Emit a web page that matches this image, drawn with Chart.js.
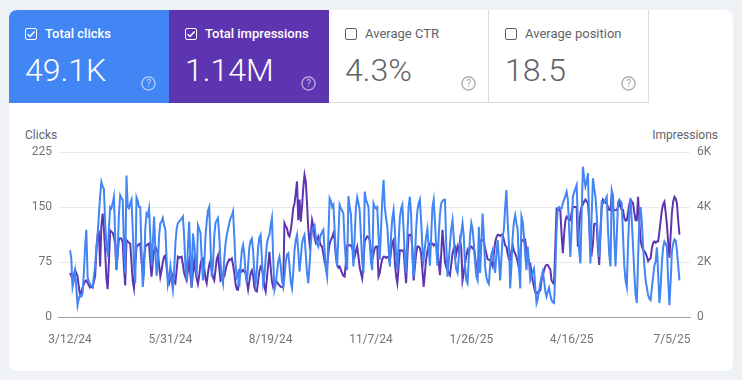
<!DOCTYPE html>
<html>
<head>
<meta charset="utf-8">
<script src="https://cdn.jsdelivr.net/npm/chart.js@4.4.1/dist/chart.umd.min.js"></script>
<style>
  body { margin: 0; background: #eef1f6; font-family: Roboto, "Noto Sans", sans-serif; }
  .panel { position: absolute; left: 9px; top: 10px; width: 724px; height: 361px; background: #fff; border-radius: 8px; overflow: hidden; }
  .card { position: absolute; top: 0; width: 160px; height: 93px; box-sizing: border-box; }
  .card.clicks { left: 0; background: #4285f4; color: #fff; }
  .card.impr { left: 160px; background: #5e35b1; color: #fff; }
  .card.ctr { left: 320px; color: #5f6368; border-right: 1px solid #dadce0; border-bottom: 1px solid #dadce0; }
  .card.pos { left: 480px; width: 160px; color: #5f6368; border-right: 1px solid #dadce0; border-bottom: 1px solid #dadce0; }
  .box { position: absolute; left: 16px; top: 18px; width: 12px; height: 12px; box-sizing: border-box; border: 1.5px solid #5f6368; border-radius: 2px; }
  .clicks .box, .impr .box { border-color: #fff; }
  .box svg { position: absolute; left: -1px; top: -1px; }
  .title { position: absolute; left: 36px; top: 17px; font-size: 13px; line-height: 1; white-space: nowrap; }
  .clicks .title, .impr .title { font-weight: 500; }
  .value { position: absolute; left: 16px; top: 44px; font-size: 32px; line-height: 1; white-space: nowrap; font-weight: 300; }
  .help { position: absolute; left: 132px; top: 66px; }
  .axis-title { position: absolute; top: 128px; font-size: 12px; line-height: 14px; color: #5f6368; }
  canvas { position: absolute; left: 0; top: 110px; }
</style>
</head>
<body>
<div class="panel">
  <div class="card clicks">
    <div class="box"><svg width="12" height="12" viewBox="0 0 12 12"><path d="M2.6 6.2 L5 8.5 L9.6 3.6" fill="none" stroke="#fff" stroke-width="1.5"/></svg></div>
    <div class="title">Total clicks</div>
    <div class="value">49.1K</div>
    <svg class="help" width="15" height="15" viewBox="0 0 15 15"><circle cx="7.5" cy="7.5" r="6.6" fill="none" stroke="rgba(255,255,255,0.65)" stroke-width="1.2"/><text x="7.5" y="11" text-anchor="middle" font-size="10" font-family="Roboto" fill="rgba(255,255,255,0.65)">?</text></svg>
  </div>
  <div class="card impr">
    <div class="box"><svg width="12" height="12" viewBox="0 0 12 12"><path d="M2.6 6.2 L5 8.5 L9.6 3.6" fill="none" stroke="#fff" stroke-width="1.5"/></svg></div>
    <div class="title">Total impressions</div>
    <div class="value">1.14M</div>
    <svg class="help" width="15" height="15" viewBox="0 0 15 15"><circle cx="7.5" cy="7.5" r="6.6" fill="none" stroke="rgba(255,255,255,0.65)" stroke-width="1.2"/><text x="7.5" y="11" text-anchor="middle" font-size="10" font-family="Roboto" fill="rgba(255,255,255,0.65)">?</text></svg>
  </div>
  <div class="card ctr">
    <div class="box"></div>
    <div class="title">Average CTR</div>
    <div class="value">4.3%</div>
    <svg class="help" width="15" height="15" viewBox="0 0 15 15"><circle cx="7.5" cy="7.5" r="6.6" fill="none" stroke="#9aa0a6" stroke-width="1.2"/><text x="7.5" y="11" text-anchor="middle" font-size="10" font-family="Roboto" fill="#9aa0a6">?</text></svg>
  </div>
  <div class="card pos">
    <div class="box"></div>
    <div class="title">Average position</div>
    <div class="value">18.5</div>
    <svg class="help" width="15" height="15" viewBox="0 0 15 15"><circle cx="7.5" cy="7.5" r="6.6" fill="none" stroke="#9aa0a6" stroke-width="1.2"/><text x="7.5" y="11" text-anchor="middle" font-size="10" font-family="Roboto" fill="#9aa0a6">?</text></svg>
  </div>
</div>
<div class="axis-title" style="left:25px">Clicks</div>
<div class="axis-title" style="right:24px">Impressions</div>
<canvas id="perfChart" width="742" height="250"></canvas>

<script>
// Daily values, 3/12/24 onwards (one entry per day)
const clicks = [
  91, 80, 41, 50, 62, 40, 16, 25, 30, 28,
  32, 60, 95, 119, 55, 48, 45, 42, 41, 55,
  69, 95, 112, 140, 165, 184, 178, 175, 130, 95,
  87, 120, 150, 148, 155, 164, 110, 64, 90, 140,
  166, 162, 160, 95, 60, 193, 150, 148, 155, 160,
  120, 70, 46, 163, 158, 150, 150, 90, 41, 60,
  120, 141, 138, 148, 110, 70, 100, 137, 95, 56,
  70, 110, 128, 130, 135, 125, 119, 80, 45, 55,
  69, 50, 37, 60, 100, 120, 128, 130, 132, 134,
  137, 110, 70, 50, 95, 130, 80, 41, 114, 100,
  80, 55, 125, 120, 115, 80, 50, 70, 110, 130,
  145, 150, 100, 55, 70, 110, 128, 132, 135, 110,
  75, 55, 46, 80, 100, 112, 120, 128, 135, 138,
  144, 110, 70, 55, 60, 41, 70, 90, 98, 85,
  60, 46, 70, 95, 104, 107, 90, 60, 46, 65,
  95, 108, 112, 80, 46, 55, 80, 100, 108, 112,
  125, 135, 80, 37, 45, 60, 75, 82, 70, 50,
  41, 55, 75, 85, 87, 70, 48, 39, 60, 90,
  105, 112, 90, 62, 80, 100, 108, 112, 85, 60,
  46, 70, 100, 118, 122, 125, 110, 100, 96, 105,
  112, 116, 119, 90, 65, 55, 110, 162, 158, 150,
  153, 120, 85, 69, 110, 153, 148, 145, 141, 100,
  75, 64, 165, 150, 140, 100, 69, 110, 150, 163,
  155, 145, 110, 75, 60, 171, 160, 155, 150, 100,
  75, 64, 155, 150, 148, 150, 110, 78, 120, 160,
  187, 150, 135, 123, 95, 69, 110, 135, 146, 120,
  85, 64, 100, 135, 148, 153, 120, 80, 60, 110,
  150, 164, 140, 85, 55, 80, 120, 145, 155, 160,
  130, 95, 78, 95, 110, 120, 95, 70, 110, 150,
  160, 130, 95, 70, 110, 140, 155, 158, 160, 160,
  100, 55, 75, 100, 120, 132, 110, 80, 65, 60,
  80, 100, 115, 128, 110, 70, 50, 46, 80, 110,
  128, 120, 100, 75, 55, 50, 123, 60, 100, 141,
  110, 69, 55, 48, 45, 70, 85, 91, 75, 60,
  85, 105, 80, 50, 80, 109, 120, 150, 173, 130,
  100, 39, 70, 110, 130, 139, 128, 119, 70, 39,
  137, 130, 110, 85, 64, 96, 75, 50, 55, 62,
  66, 40, 19, 25, 35, 46, 55, 62, 50, 35,
  28, 35, 40, 30, 23, 20, 19, 60, 120, 148,
  150, 148, 148, 155, 160, 165, 171, 160, 120, 82,
  120, 164, 170, 175, 180, 130, 90, 73, 140, 205,
  190, 178, 185, 196, 130, 73, 140, 189, 175, 164,
  140, 100, 82, 120, 157, 155, 158, 160, 164, 120,
  85, 69, 173, 166, 110, 69, 110, 157, 160, 158,
  155, 110, 70, 50, 41, 100, 140, 162, 130, 96,
  60, 30, 19, 80, 130, 150, 130, 96, 70, 50,
  40, 30, 25, 23, 40, 55, 70, 76, 95, 60,
  19, 40, 75, 95, 103, 100, 95, 50, 16, 50,
  90, 100, 106, 104, 90, 70, 50
];

const impressions = [
  1600, 1500, 1330, 1500, 1710, 1600, 1470, 1100, 800, 900,
  1070, 1200, 1300, 1330, 1250, 1150, 1070, 1100, 1070, 1300,
  1470, 2400, 3010, 3070, 1840, 3300, 3760, 3250, 2400, 1400,
  1010, 2000, 3150, 3100, 3070, 2900, 2670, 1710, 2300, 2850,
  2860, 2850, 2720, 1800, 1150, 2800, 2750, 2700, 2670, 2000,
  1300, 1040, 1900, 2560, 2600, 2650, 2670, 2000, 1600, 2100,
  2560, 2600, 2650, 2670, 2000, 1470, 2000, 2400, 2560, 2450,
  2350, 1900, 1470, 1700, 2000, 2200, 2240, 1800, 1400, 1230,
  1400, 1600, 1400, 1300, 1230, 1700, 2190, 2150, 2180, 2190,
  1900, 1600, 1450, 1330, 1700, 2050, 1500, 1070, 1600, 2050,
  1700, 1400, 1200, 1500, 1900, 2100, 2130, 1800, 1400, 1230,
  1600, 1900, 2050, 1700, 1450, 1330, 1700, 2100, 2240, 1800,
  1330, 1400, 1450, 1470, 1700, 1900, 2000, 2100, 2080, 2130,
  1900, 1600, 1200, 1000, 990, 1710, 1700, 1650, 1710, 1650,
  1600, 1300, 1000, 1300, 1600, 1700, 1500, 1100, 950, 930,
  1300, 1650, 1840, 1800, 1500, 1100, 930, 1400, 1900, 2370,
  1800, 1300, 1090, 1200, 1280, 1280, 1200, 1150, 1100, 1090,
  1100, 3410, 3300, 3230, 3000, 2930, 3170, 3500, 3950, 4130,
  4500, 4930, 3520, 4270, 3470, 4000, 4700, 5170, 4930, 4130,
  3200, 2670, 3000, 3520, 3300, 2900, 2700, 2800, 2930, 2750,
  2600, 2560, 2300, 2000, 1850, 1840, 2300, 2670, 2800, 2900,
  3040, 2800, 2200, 1900, 1800, 1840, 1700, 1600, 1500, 1470,
  2000, 2610, 2620, 2600, 2610, 2500, 2400, 2200, 2400, 2560,
  2200, 1800, 1600, 1410, 2000, 2750, 2850, 2930, 2900, 2800,
  2400, 2080, 2300, 2500, 2560, 2560, 1470, 1600, 1900, 2100,
  2190, 2190, 2150, 2180, 2190, 2000, 2400, 2700, 2800, 2000,
  1500, 1230, 1800, 2430, 2430, 2400, 2430, 1800, 1230, 2200,
  2990, 2980, 2990, 2500, 1330, 1800, 2300, 2560, 2560, 2500,
  2300, 1700, 1090, 1600, 2100, 2400, 2600, 2670, 2650, 2670,
  2600, 2650, 2670, 2600, 2000, 1520, 2300, 3170, 2600, 2000,
  1800, 1710, 1600, 1520, 1900, 2300, 2500, 2560, 2300, 2560,
  2400, 2800, 2500, 1330, 1600, 1950, 2200, 2430, 2300, 2560,
  2560, 2500, 2560, 2200, 1800, 1600, 2200, 2700, 2800, 2800,
  2750, 2500, 2300, 2100, 2080, 2080, 1950, 1840, 2300, 2700,
  2900, 2990, 2980, 2950, 2990, 2990, 2800, 2600, 2560, 2300,
  2100, 2080, 2400, 2610, 2400, 2300, 2190, 2000, 1760, 2300,
  2800, 2800, 2750, 2800, 2400, 2200, 1950, 1950, 1600, 1330,
  1100, 900, 850, 900, 950, 960, 1330, 1500, 1700, 1840,
  1900, 1890, 1800, 1730, 1330, 1250, 1200, 2600, 3950, 3950,
  3900, 3870, 3000, 2320, 3000, 3500, 3650, 3600, 3520, 3520,
  3800, 4000, 4000, 4000, 4000, 2560, 3300, 3800, 4000, 4100,
  4200, 4270, 4200, 4130, 3500, 2400, 2300, 2670, 3380, 3390,
  3390, 2500, 1890, 3000, 4000, 4270, 4200, 4150, 4130, 4000,
  3890, 3890, 4480, 3890, 3890, 3880, 3890, 4000, 4190, 4000,
  3890, 3890, 3600, 3500, 3520, 3800, 4100, 4270, 4200, 4130,
  3800, 3520, 3520, 4370, 3500, 2800, 2560, 2450, 2400, 2320,
  2200, 2030, 2100, 2130, 2500, 2700, 2750, 2700, 2750, 2750,
  3100, 3500, 3890, 4100, 4190, 3800, 3360, 2700, 2160, 3000,
  3800, 4200, 4370, 4300, 4130, 3500, 2990
];

// X axis ticks: day offsets from the first day and their labels
const tickDays = [0, 80, 160, 240, 320, 400, 480];
const tickLabels = ["3/12/24", "5/31/24", "8/19/24", "11/7/24", "1/26/25", "4/16/25", "7/5/25"];

// Y axis ticks
const clickTicks = [0, 75, 150, 225];
const imprTicks = [0, 2000, 4000, 6000];
const imprTickLabels = ["0", "2K", "4K", "6K"];

Chart.defaults.font.family = "Roboto";
Chart.defaults.font.size = 12;
Chart.defaults.color = "#70757a";

// Function to turn a daily array into points on the day axis
function toPoints(values) {
  return values.map((v, i) => ({ x: i, y: v }));
}

const ctx = document.getElementById("perfChart").getContext("2d");
new Chart(ctx, {
  type: "line",
  data: {
    datasets: [
      {
        label: "Clicks",
        data: toPoints(clicks),
        yAxisID: "y",
        borderColor: "#4285f4",
        borderWidth: 2,
        pointRadius: 0,
        tension: 0
      },
      {
        label: "Impressions",
        data: toPoints(impressions),
        yAxisID: "y2",
        borderColor: "#5e35b1",
        borderWidth: 2,
        pointRadius: 0,
        tension: 0
      }
    ]
  },
  options: {
    responsive: false,
    animation: false,
    events: [],
    layout: { padding: { top: 42, left: 0, right: 0, bottom: 0 } },
    plugins: { legend: { display: false }, tooltip: { enabled: false } },
    scales: {
      x: {
        type: "linear",
        min: -9.6,
        max: 494.4,
        afterBuildTicks: axis => { axis.ticks = tickDays.map(v => ({ value: v })); },
        afterFit: axis => { axis.height = 43; },
        ticks: {
          autoSkip: false,
          maxRotation: 0,
          padding: 16,
          callback: v => tickLabels[tickDays.indexOf(v)]
        },
        grid: { display: false, drawTicks: false },
        border: { display: true, color: "#9aa0a6", width: 1 }
      },
      y: {
        position: "left",
        min: 0,
        max: 225,
        afterBuildTicks: axis => { axis.ticks = clickTicks.map(v => ({ value: v })); },
        afterFit: axis => { axis.width = 58; },
        ticks: { padding: 6 },
        grid: {
          drawTicks: false,
          color: c => (c.tick && c.tick.value === 0 ? "rgba(0,0,0,0)" : "#e8eaed")
        },
        border: { display: false }
      },
      y2: {
        position: "right",
        min: 0,
        max: 6000,
        afterBuildTicks: axis => { axis.ticks = imprTicks.map(v => ({ value: v })); },
        afterFit: axis => { axis.width = 52; },
        ticks: {
          padding: 7,
          callback: v => imprTickLabels[imprTicks.indexOf(v)]
        },
        grid: { display: false, drawTicks: false },
        border: { display: false }
      }
    }
  }
});
</script>
</body>
</html>
